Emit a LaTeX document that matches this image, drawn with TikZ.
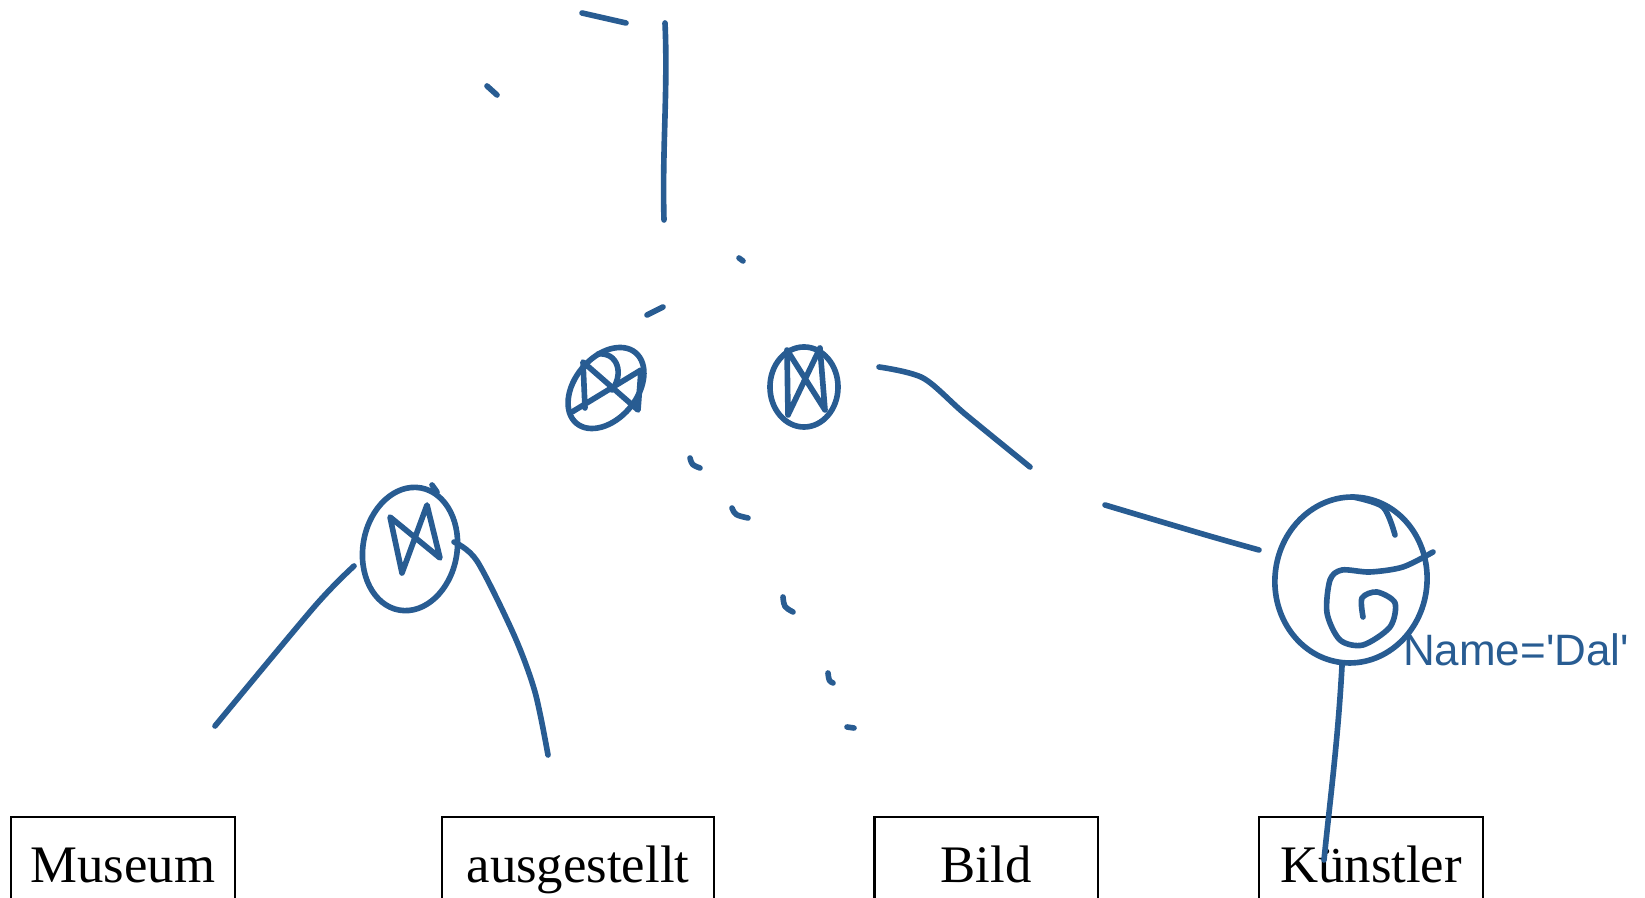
\documentclass[tikz,border=0pt]{standalone}
\usepackage{fontspec}
\setmainfont{Liberation Serif}
\newfontfamily\handfont{Liberation Sans}
\usepackage{tikz}
\usepackage{xcolor}
\usetikzlibrary{shapes.geometric, calc}
\definecolor{penBlue}{RGB}{40,92,146}
\tikzset{
    relBox/.style={rectangle, draw=black, line width=0.6pt, anchor=north, inner sep=0pt,
        minimum width=2.24cm, text height=0.65cm, text depth=0.6cm, font=\fontsize{15}{15}\selectfont},
    pen/.style={draw=penBlue, line width=1.6pt, line cap=round, line join=round},
    opRing/.style={ellipse, pen, inner sep=0pt}
}

\begin{document}
\begin{tikzpicture}[x=0.01cm, y=-0.01cm]
    \useasboundingbox (0,0) rectangle (1645,898);
    \clip (0,0) rectangle (1645,898);
    % relations
    \node[relBox] (museum) at (123,816) {Museum};
    \node[relBox, minimum width=2.71cm] (ausgestellt) at (578,816) {ausgestellt};
    \node[relBox, minimum width=2.23cm] (bild) at (986,816) {Bild};
    \node[relBox] (kuenstler) at (1371,816) {Künstler};
    % operator rings
    \node[opRing, minimum width=0.92cm, minimum height=0.62cm, rotate=50] (joinA) at (606,388) {};
    \node[opRing, minimum width=0.68cm, minimum height=0.8cm] (joinB) at (804,387) {};
    \node[opRing, minimum width=0.94cm, minimum height=1.24cm, rotate=-10] (joinC) at (410,549) {};
    \node[opRing, minimum width=1.52cm, minimum height=1.66cm, rotate=-6] (select) at (1351,580) {};
    \node[text=penBlue, font=\handfont\fontsize{12.5}{12.5}\selectfont] (selCond) at (1516,650) {Name='Dal'};
    % bowties
    \draw[pen, shift={(joinA.center)}] (-21,20) -- (-23,-26) -- (32,22) -- (35,-18) -- (-34,24);
    \draw[pen, shift={(joinA.center)}] (6,2) .. controls (18,-14) and (12,-36) .. (-8,-34);
    \draw[pen, shift={(joinB.center)}] (-16,28) -- (-17,-37) -- (21,23) -- (16,-39) -- cycle;
    \draw[pen, shift={(joinC.center)}] (-8,24) -- (-20,-32) -- (30,9) -- (17,-44) -- cycle;
    \draw[pen, shift={(joinC.center)}] (22,-64) -- (27,-57);
    % sigma
    \draw[pen, shift={(select.center)}] plot[smooth] coordinates {(12,37) (11,18) (26,12) (44,23) (39,47) (12,65) (-11,60) (-24,33) (-21,0) (-9,-10) (19,-8) (52,-13) (82,-28)};
    \draw[pen, shift={(select.center)}] plot[smooth] coordinates {(2,-83) (32,-73) (44,-45)};
    % strokes
    \coordinate (stemEnd) at ($(kuenstler.north)+(-47,44)$);
    \draw[pen] (select.south) .. controls (1338,740) and (1330,800) .. (stemEnd);
    \coordinate (bA) at (879,367);  \coordinate (bB) at (1030,467);
    \draw[pen] plot[smooth] coordinates {(bA) (923,378) (965,414) (bB)};
    \coordinate (kA) at (1105,505);  \coordinate (kB) at (1259,550);
    \draw[pen] plot[smooth] coordinates {(kA) (1206,535) (kB)};
    \coordinate (mEnd) at (215,726);
    \draw[pen] plot[smooth] coordinates {(354,566) (315,606) (mEnd)};
    \coordinate (aEnd) at (548,755);
    \draw[pen] plot[smooth] coordinates {(454,542) (477,561) (514,635) (535,692) (aEnd)};
    \draw[pen] (665,23) .. controls (668,90) and (662,150) .. (664,220);
    \draw[pen] (582,13) -- (626,23);
    \draw[pen] (487,86) -- (497,95);
    \draw[pen] (739,258) -- (743,261);
    \draw[pen] (647,315) -- (663,307);
    \draw[pen] (690,458) .. controls (692,465) .. (700,468);
    \draw[pen] (732,508) .. controls (735,515) .. (748,518);
    \draw[pen] (783,597) .. controls (784,607) .. (793,612);
    \draw[pen] (828,673) .. controls (829,681) .. (833,683);
    \draw[pen] (847,727) -- (854,728);
\end{tikzpicture}
\end{document}
